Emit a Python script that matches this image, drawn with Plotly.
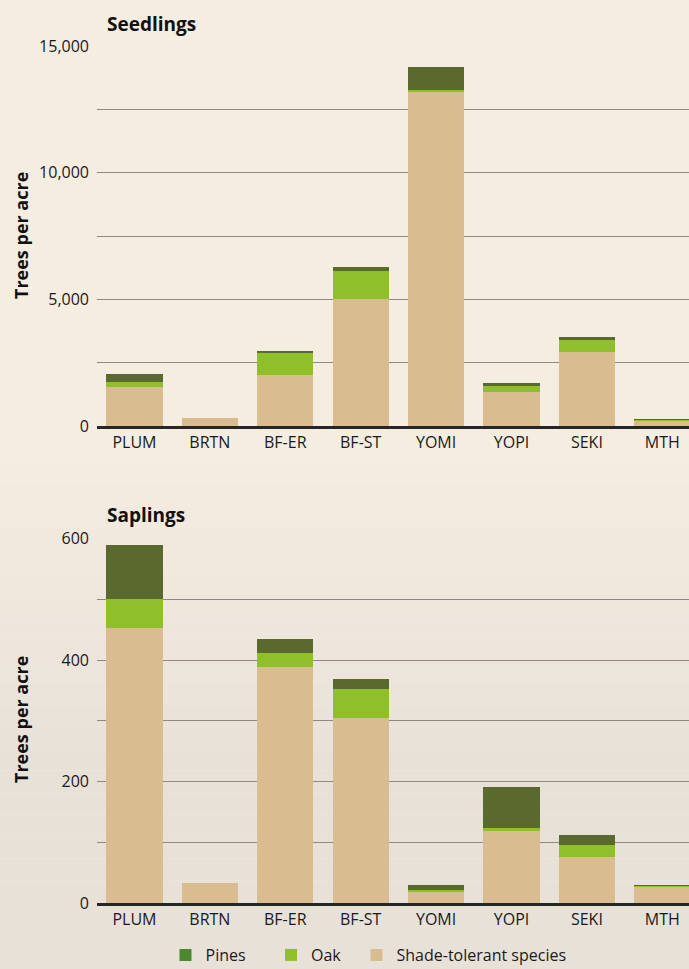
import plotly.graph_objects as go

# ---- data ----
sites = ["PLUM", "BRTN", "BF-ER", "BF-ST", "YOMI", "YOPI", "SEKI", "MTH"]

seed_shade = [1520, 320, 2030, 5000, 13180, 1350, 2930, 210]
seed_oak = [220, 0, 860, 1100, 90, 235, 475, 40]
seed_pines = [320, 0, 65, 190, 900, 130, 105, 25]

sap_shade = [453, 33, 388, 305, 19, 118, 76, 28.5]
sap_oak = [47, 0, 23, 47, 2, 6, 20, 0.5]
sap_pines = [90, 0, 23, 17, 8, 67, 16, 1]

seed_ticks = [0, 5000, 10000, 15000]
sap_ticks = [0, 200, 400, 600]

series_names = ["Pines", "Oak", "Shade-tolerant species"]
bar_colors = {"Pines": "#5a6a2e", "Oak": "#8fc02b", "Shade-tolerant species": "#d9bc90"}
legend_colors = {"Pines": "#4c8830", "Oak": "#8fc02b", "Shade-tolerant species": "#d9bc90"}

W, H = 689, 969
FONT = "Open Sans"

fig = go.Figure()

def add_stack(shade, oak, pines, xa, ya):
    for name, vals in [("Shade-tolerant species", shade), ("Oak", oak), ("Pines", pines)]:
        fig.add_trace(go.Bar(x=sites, y=vals, name=name, marker_color=bar_colors[name],
                             marker_line_width=0, showlegend=False, xaxis=xa, yaxis=ya,
                             hoverinfo="x+y+name"))

add_stack(seed_shade, seed_oak, seed_pines, "x", "y")
add_stack(sap_shade, sap_oak, sap_pines, "x2", "y2")

# legend-only entries, each in its own legend box
legend_ids = ["legend", "legend2", "legend3"]
legend_x = [165.5, 271, 356.5]
for name, lid in zip(series_names, legend_ids):
    fig.add_trace(go.Bar(x=[None], y=[None], name=name, marker_color=legend_colors[name],
                         marker_line_width=0, showlegend=True, xaxis="x2", yaxis="y2",
                         legend=lid))

# background (faded photo approximation)
top_c = (246, 237, 225)
bot_c = (232, 225, 216)
start, end, n = 440, H, 24
shapes = [dict(type="rect", xref="paper", yref="paper", x0=0, x1=1, y0=1 - start / H, y1=1,
               fillcolor="rgb(%d,%d,%d)" % top_c, line_width=0, layer="below")]
for i in range(n):
    y0p = start + (end - start) * i / n
    y1p = start + (end - start) * (i + 1) / n
    t = (i + 0.5) / n
    t = min(1.0, t * 1.6)
    c = tuple(round(top_c[k] + (bot_c[k] - top_c[k]) * t) for k in range(3))
    shapes.append(dict(type="rect", xref="paper", yref="paper", x0=0, x1=1,
                       y0=1 - y1p / H, y1=1 - y0p / H,
                       fillcolor="rgb(%d,%d,%d)" % c, line_width=0, layer="below"))

xdom = [97 / W, 1]
xr = [-0.497, 7.354]
xcommon = dict(domain=xdom, range=xr, showline=True, linecolor="#262626", linewidth=2.5,
               showgrid=False, ticks="", tickfont=dict(family=FONT, size=16, color="#1a1a1a"),
               ticklabelstandoff=0, fixedrange=True, automargin=False)
ycommon = dict(showgrid=True, gridcolor="#8e8984", gridwidth=1, zeroline=False, ticks="",
               tickfont=dict(family=FONT, size=16, color="#1a1a1a"), tickformat=",",
               ticklabelstandoff=7, showline=False, fixedrange=True, automargin=False)

leg_common = dict(orientation="h", xanchor="left", y=14 / H, yanchor="middle",
                  font=dict(family=FONT, size=16, color="#1a1a1a"), bgcolor="rgba(0,0,0,0)")

fig.update_layout(
    width=W, height=H, autosize=False,
    margin=dict(l=0, r=0, t=0, b=0, pad=0, autoexpand=False),
    paper_bgcolor="rgb(%d,%d,%d)" % top_c, plot_bgcolor="rgba(0,0,0,0)",
    barmode="stack", bargap=0.253,
    shapes=shapes,
    xaxis=dict(**xcommon, anchor="y"),
    xaxis2=dict(**xcommon, anchor="y2"),
    yaxis=dict(**ycommon, domain=[1 - 426 / H, 1 - 46 / H], range=[0, 15000],
               tickvals=seed_ticks, minor=dict(dtick=2500, showgrid=True, gridcolor="#8e8984", gridwidth=1),
               anchor="x"),
    yaxis2=dict(**ycommon, domain=[1 - 903 / H, 1 - 538.5 / H], range=[0, 600],
                tickvals=sap_ticks, minor=dict(dtick=100, showgrid=True, gridcolor="#8e8984", gridwidth=1),
                anchor="x2"),
    legend=dict(**leg_common, x=legend_x[0] / W),
    legend2=dict(**leg_common, x=legend_x[1] / W),
    legend3=dict(**leg_common, x=legend_x[2] / W),
    annotations=[
        dict(text="<b>Seedlings</b>", x=105 / W, y=1 - 24 / H, xref="paper", yref="paper",
             xanchor="left", yanchor="middle", showarrow=False,
             font=dict(family=FONT, size=19, color="#111")),
        dict(text="<b>Saplings</b>", x=105 / W, y=1 - 515 / H, xref="paper", yref="paper",
             xanchor="left", yanchor="middle", showarrow=False,
             font=dict(family=FONT, size=19, color="#111")),
        dict(text="<b>Trees per acre</b>", x=21 / W, y=1 - 236 / H, xref="paper", yref="paper",
             xanchor="center", yanchor="middle", textangle=-90, showarrow=False,
             font=dict(family=FONT, size=18, color="#111")),
        dict(text="<b>Trees per acre</b>", x=21 / W, y=1 - 720 / H, xref="paper", yref="paper",
             xanchor="center", yanchor="middle", textangle=-90, showarrow=False,
             font=dict(family=FONT, size=18, color="#111")),
    ],
)

fig.write_html("out.html", config={"displayModeBar": False},
               post_script="document.body.style.margin='0';document.body.style.overflow='hidden';")
